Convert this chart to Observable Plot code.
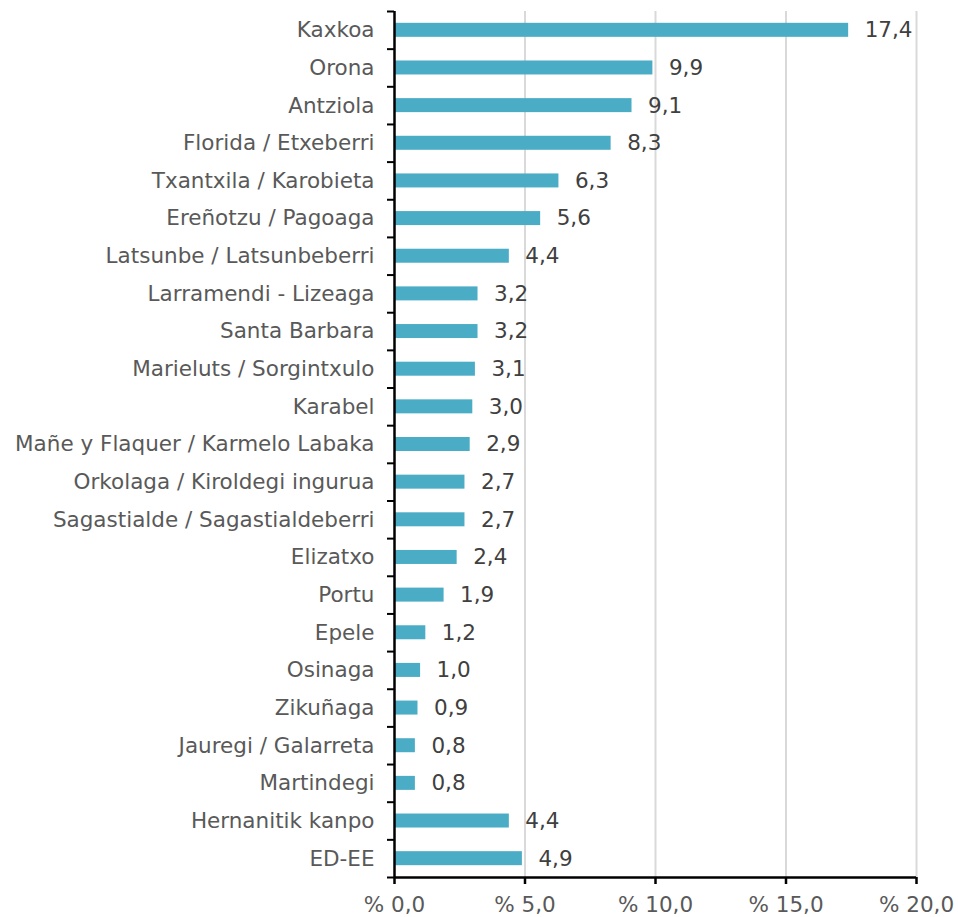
<!DOCTYPE html>
<html>
<head>
<meta charset="utf-8">
<script src="https://cdn.jsdelivr.net/npm/d3@7"></script>
<script src="https://cdn.jsdelivr.net/npm/@observablehq/plot@0.6"></script>
<style>
  body { margin: 0; background: #fff; }
</style>
</head>
<body>
<div id="chart"></div>
<script>
const categories = [
  "Kaxkoa", "Orona", "Antziola", "Florida / Etxeberri", "Txantxila / Karobieta",
  "Ereñotzu / Pagoaga", "Latsunbe / Latsunbeberri", "Larramendi - Lizeaga",
  "Santa Barbara", "Marieluts / Sorgintxulo", "Karabel",
  "Mañe y Flaquer / Karmelo Labaka", "Orkolaga / Kiroldegi ingurua",
  "Sagastialde / Sagastialdeberri", "Elizatxo", "Portu", "Epele", "Osinaga",
  "Zikuñaga", "Jauregi / Galarreta", "Martindegi", "Hernanitik kanpo", "ED-EE"
];
const values = [17.4, 9.9, 9.1, 8.3, 6.3, 5.6, 4.4, 3.2, 3.2, 3.1, 3.0, 2.9, 2.7, 2.7, 2.4, 1.9, 1.2, 1.0, 0.9, 0.8, 0.8, 4.4, 4.9];
const xTicks = [0, 5, 10, 15, 20];

const data = categories.map((c, i) => ({category: c, value: values[i]}));
const fmt = v => v.toFixed(1).replace(".", ",");

const W = 958, H = 917;
const mTop = 11, mBottom = 40, mLeft = 394, mRight = 42;
const step = (H - mTop - mBottom) / categories.length;
const barH = 14;
const inset = (step - barH) / 2;
const textColor = "#595959";
const font = "DejaVu Sans, Verdana, sans-serif";
const fs = 21.5;

const chart = Plot.plot({
  width: W,
  height: H,
  marginTop: mTop,
  marginBottom: mBottom,
  marginLeft: mLeft,
  marginRight: mRight,
  style: {fontFamily: font, fontSize: fs + "px", color: textColor, background: "#fff"},
  x: {domain: [0, 20], axis: null, label: null},
  y: {domain: categories, padding: 0, round: false, axis: null, label: null},
  marks: [
    Plot.ruleX(xTicks.filter(d => d > 0), {stroke: "#d9d9d9", strokeWidth: 2}),
    Plot.barX(data, {y: "category", x: "value", fill: "#4bacc6", insetTop: inset, insetBottom: inset}),
    Plot.text(data, {y: "category", x: "value", text: d => fmt(d.value), textAnchor: "start", dx: 16, fill: "#404040", fontSize: fs}),
    Plot.axisY({tickSize: 0, tickPadding: 20, fontSize: fs, fill: textColor, label: null}),
    Plot.ruleY(categories, {y: d => d, dy: -step / 2, x1: 0, x2: -7 / 26.1, stroke: "#000", strokeWidth: 2}),
    Plot.ruleY(categories.slice(-1), {y: d => d, dy: step / 2, x1: -7 / 26.1, x2: 0, stroke: "#000", strokeWidth: 2}),
    Plot.ruleX([0], {stroke: "#000", strokeWidth: 2.5}),
    Plot.ruleY(categories.slice(-1), {y: d => d, dy: step / 2, x1: 0, x2: 20, stroke: "#000", strokeWidth: 2.5}),
    Plot.axisX(xTicks, {tickSize: 7, stroke: "#000", strokeWidth: 2.5, tickFormat: d => "% " + fmt(d), fontSize: fs, fill: textColor, tickPadding: 12, label: null})
  ]
});

document.getElementById("chart").appendChild(chart);
</script>
</body>
</html>
